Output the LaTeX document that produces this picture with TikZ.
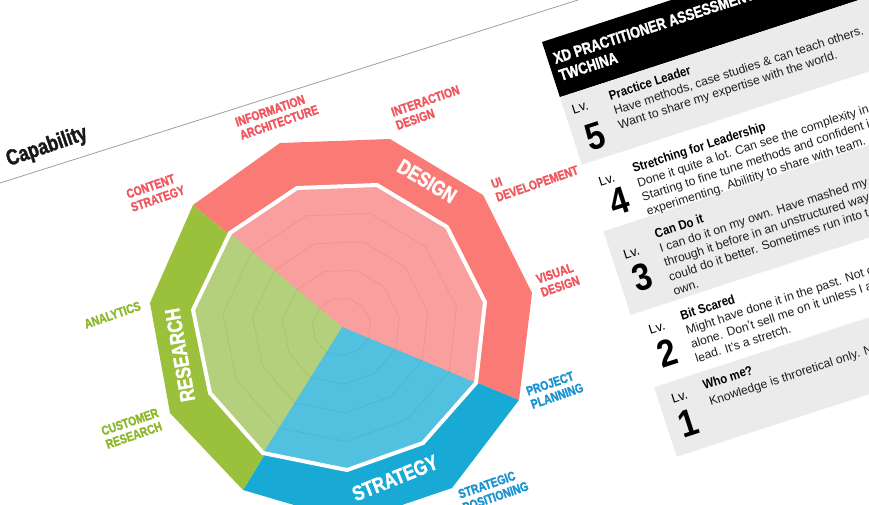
\documentclass[tikz,border=0pt]{standalone}
\usepackage{fontspec}
\setmainfont{Liberation Sans}
\newfontfamily\cond[FakeStretch=0.8, FakeBold=1.6]{LiberationSans-Bold.ttf}
\newfontfamily\condb[FakeStretch=0.88]{LiberationSans-Bold.ttf}
\usetikzlibrary{calc}
\definecolor{ringred}{HTML}{FA7A76}
\definecolor{innerpink}{HTML}{F9A09E}
\definecolor{ringgreen}{HTML}{9BC03C}
\definecolor{innergreen}{HTML}{B5D07D}
\definecolor{ringblue}{HTML}{18AAD4}
\definecolor{innerblue}{HTML}{52C1E0}
\definecolor{labred}{HTML}{F0565E}
\definecolor{labgreen}{HTML}{8CB82B}
\definecolor{labblue}{HTML}{1A93D0}
\definecolor{panelgray}{HTML}{EBEBEB}
\definecolor{bodytext}{HTML}{1E1E1E}
\begin{document}
\begin{tikzpicture}[x=1pt,y=-1pt,
  lab/.style={inner sep=0pt, anchor=north west, align=left, rotate=19,
    font=\cond\fontsize{13}{14}\selectfont},
  ringlab/.style={text=white, inner sep=0pt,
    font=\cond\fontsize{21}{21}\selectfont},
  gridline/.style={draw=black, draw opacity=0.07, line width=0.7pt},
  lvl/.style={font=\fontsize{13}{13}\selectfont, inner sep=0pt},
  digit/.style={font=\condb\fontsize{38}{38}\selectfont, inner sep=0pt},
  ttl/.style={font=\condb\fontsize{13}{13}\selectfont, anchor=base west, inner sep=0pt},
  body/.style={font=\fontsize{12.2}{12}\selectfont, text=bodytext, anchor=base west, inner sep=0pt},
]
\useasboundingbox (0,0) rectangle (869,504);
\fill[white] (0,0) rectangle (869,504);
\clip (0,0) rectangle (869,504);

% rule under the title
\coordinate (L1) at (0,183);
\coordinate (L2) at (600,-7);
\draw[gray!75, line width=0.8pt] (L1) -- (L2);
\node[inner sep=0pt, rotate=19, text=black!90, font=\cond\fontsize{22}{22}\selectfont] (cap) at (47,147) {Capability};

% geometry
\coordinate (C) at (342,327);
\coordinate (O1) at (280,143);
\coordinate (O2) at (390,139);
\coordinate (O3) at (483,195);
\coordinate (O4) at (532,293);
\coordinate (O5) at (519,400);
\coordinate (O6) at (452,488);
\coordinate (O7) at (352,522);
\coordinate (O8) at (243,490);
\coordinate (O9) at (170,413);
\coordinate (O10) at (150,303);
\coordinate (O11) at (193,205);
\coordinate (I1) at (297,188);
\coordinate (I2) at (377,185);
\coordinate (I3) at (447,227);
\coordinate (I4) at (485,302);
\coordinate (I5) at (476,383);
\coordinate (I6) at (423,443);
\coordinate (I7) at (347,470);
\coordinate (I8) at (263,453);
\coordinate (I9) at (210,393);
\coordinate (I10) at (193,310);
\coordinate (I11) at (230,233);

% outer ring
\fill[ringred] (C) -- (O11) -- (O1) -- (O2) -- (O3) -- (O4) -- (O5) -- cycle;
\fill[ringblue] (C) -- (O5) -- (O6) -- (O7) -- (O8) -- cycle;
\fill[ringgreen] (C) -- (O8) -- (O9) -- (O10) -- (O11) -- cycle;
% inner sectors
\fill[innerpink] (C) -- (I11) -- (I1) -- (I2) -- (I3) -- (I4) -- (I5) -- cycle;
\fill[innerblue] (C) -- (I5) -- (I6) -- (I7) -- (I8) -- cycle;
\fill[innergreen] (C) -- (I8) -- (I9) -- (I10) -- (I11) -- cycle;
% grid rings
\foreach \f in {0.2,0.4,0.6,0.8}{
  \draw[gridline] ($(C)!\f!(I1)$) -- ($(C)!\f!(I2)$) -- ($(C)!\f!(I3)$) -- ($(C)!\f!(I4)$)
   -- ($(C)!\f!(I5)$) -- ($(C)!\f!(I6)$) -- ($(C)!\f!(I7)$) -- ($(C)!\f!(I8)$)
   -- ($(C)!\f!(I9)$) -- ($(C)!\f!(I10)$) -- ($(C)!\f!(I11)$) -- cycle;
}
% white border
\draw[white, line width=4pt, line join=miter]
  (I1) -- (I2) -- (I3) -- (I4) -- (I5) -- (I6) -- (I7) -- (I8) -- (I9) -- (I10) -- (I11) -- cycle;

% ring labels
\node[ringlab, rotate=-31] (design) at (427,181) {DESIGN};
\node[ringlab, rotate=100] (research) at (180,355) {RESEARCH};
\node[ringlab, rotate=22] (strategy) at (395,478) {STRATEGY};

% outer labels
\node[lab, text=labred] (ia) at (234,118) {INFORMATION\\ARCHITECTURE};
\node[lab, text=labred] (ixd) at (390,108) {INTERACTION\\DESIGN};
\node[lab, text=labred] (uid) at (490,180) {UI\\DEVELOPEMENT};
\node[lab, text=labred] (vd) at (535,275) {VISUAL\\DESIGN};
\node[lab, text=labblue] (pp) at (525,387) {PROJECT\\PLANNING};
\node[lab, text=labblue] (sp) at (457,490) {STRATEGIC\\POSITIONING};
\node[lab, text=labgreen] (cr) at (100,427) {CUSTOMER\\RESEARCH};
\node[lab, text=labgreen] (an) at (83,320) {ANALYTICS};
\node[lab, text=labred] (cs) at (125,190) {CONTENT\\STRATEGY};

% assessment panel
\begin{scope}[shift={(542,42)}, rotate=18, transform shape]
  \fill[black] (0,0) rectangle (470,58);
  \fill[panelgray] (0,58) rectangle (470,129);
  \fill[panelgray] (0,199) rectangle (470,287);
  \fill[panelgray] (0,363) rectangle (470,436);
  \node[anchor=base west, inner sep=0pt, text=white, font=\cond\fontsize{16}{16}\selectfont] (h1) at (6,25) {XD PRACTITIONER ASSESSMENT};
  \node[anchor=base west, inner sep=0pt, text=white, font=\cond\fontsize{16}{16}\selectfont] (h2) at (6,43) {TWCHINA};
  % level 5
  \node[lvl] (lv5) at (16,74) {Lv.};
  \node[digit] (n5) at (22,106) {5};
  \node[ttl] (t5) at (47,77) {Practice Leader};
  \node[body] (b5a) at (47,92) {Have methods, case studies \& can teach others.};
  \node[body] (b5b) at (47,107) {Want to share my expertise with the world.};
  % level 4
  \node[lvl] (lv4) at (19,151) {Lv.};
  \node[digit] (n4) at (24,175) {4};
  \node[ttl] (t4) at (47,153) {Stretching for Leadership};
  \node[body] (b4a) at (47,168) {Done it quite a lot. Can see the complexity in};
  \node[body] (b4b) at (47,183) {Starting to fine tune methods and confident i};
  \node[body] (b4c) at (47,198) {experimenting. Abilitity to share with team.};
  % level 3
  \node[lvl] (lv3) at (20,228) {Lv.};
  \node[digit] (n3) at (23,255) {3};
  \node[ttl] (t3) at (48,222) {Can Do it};
  \node[body] (b3a) at (48,237) {I can do it on my own. Have mashed my};
  \node[body] (b3b) at (48,252) {through it before in an unstructured way};
  \node[body] (b3c) at (48,267) {could do it better. Sometimes run into t};
  \node[body] (b3d) at (48,282) {own.};
  % level 2
  \node[lvl] (lv2) at (21,307) {Lv.};
  \node[digit] (n2) at (23,334) {2};
  \node[ttl] (t2) at (47,308) {Bit Scared};
  \node[body] (b2a) at (48,323) {Might have done it in the past. Not c};
  \node[body] (b2b) at (48,338) {alone. Don't sell me on it unless I a};
  \node[body] (b2c) at (48,353) {lead. It's a stretch.};
  % level 1
  \node[lvl] (lv1) at (21,380) {Lv.};
  \node[digit] (n1) at (21,408) {1};
  \node[ttl] (t1) at (47,381) {Who me?};
  \node[body] (b1a) at (48,398) {Knowledge is throretical only. N};
\end{scope}
\end{tikzpicture}
\end{document}
